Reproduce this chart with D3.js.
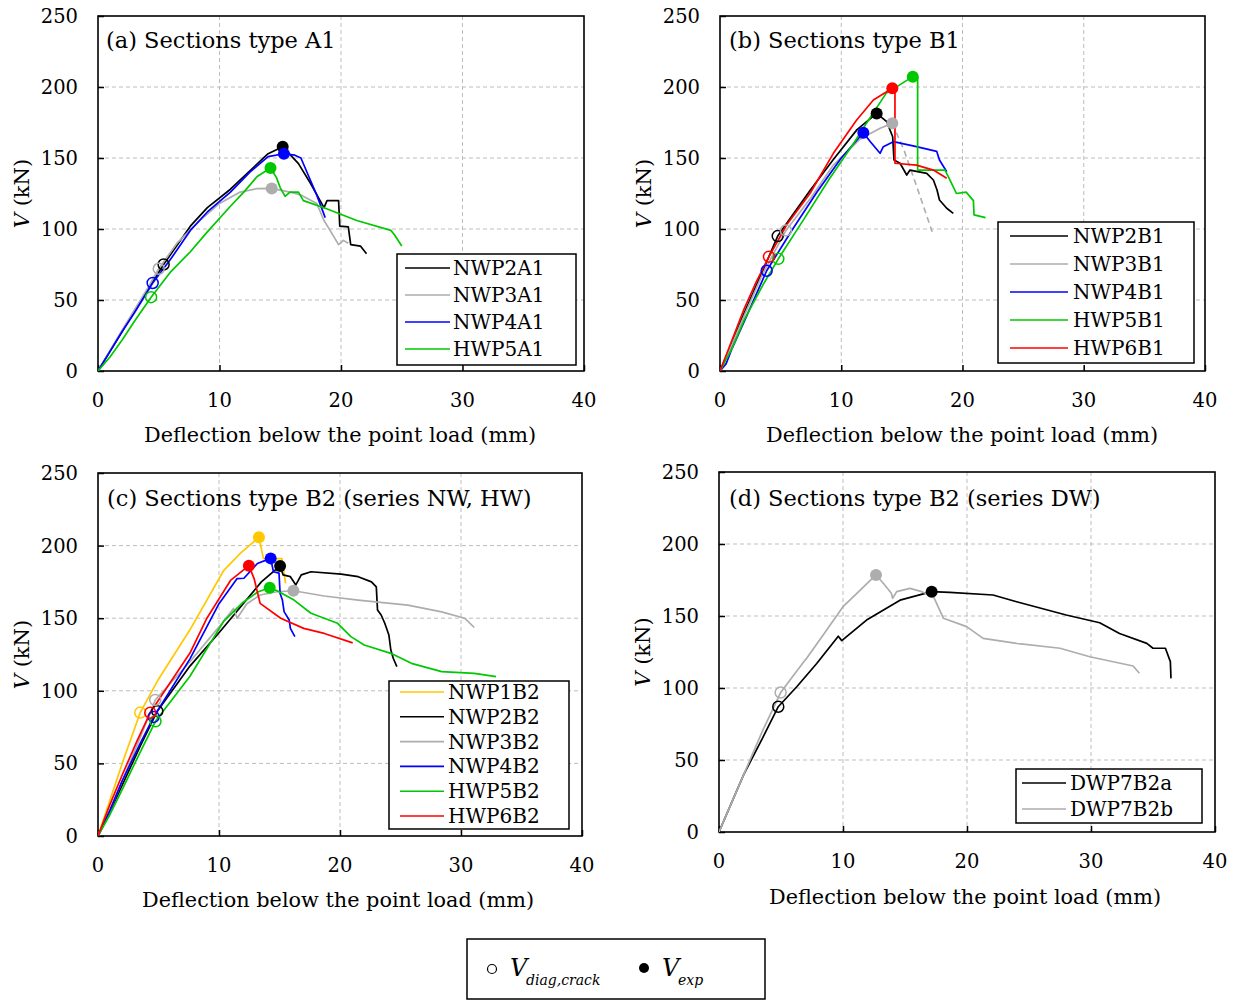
<!DOCTYPE html>
<html><head><meta charset="utf-8">
<script src="https://cdn.jsdelivr.net/npm/d3@7"></script>
<style>body{margin:0;background:#fff}text{font-family:"DejaVu Serif","Liberation Serif",serif;fill:#000}</style>
</head><body>
<svg id="c" width="1234" height="1000"></svg>
<script>
// ---------------- DATA ----------------
const xTicks = [0, 10, 20, 30, 40];
const yTicks = [0, 50, 100, 150, 200, 250];
const panelTitles = ["(a) Sections type A1", "(b) Sections type B1", "(c) Sections type B2 (series NW, HW)", "(d) Sections type B2 (series DW)"];
const xTitle = "Deflection below the point load (mm)";

// Panel (a)
const NWP2A1 = [[0,0],[2,28],[4,56],[5.4,75],[7.6,102],[9,115],[10.9,128],[12.5,141],[14,153],[15.2,158],[16.5,146],[17.5,132],[18.6,115],[18.85,120],[19.8,120],[19.9,102],[20.6,101.5],[20.8,89],[21.6,88],[22.1,82.5]];
const NWP3A1 = [[0,0],[2,29],[4,57],[5,72],[6.5,90],[8.4,106],[10,118],[11.7,126],[13.1,128.5],[14.3,128.6],[15.8,126],[16.7,124],[18,118],[18.6,106],[19.1,99],[19.8,89],[20.2,92],[20.6,90]];
const NWP4A1 = [[0,0],[1,14],[2,28],[3,41],[4.5,62],[6,79],[7.6,99],[9,112],[10.9,126],[12.5,140],[14,151],[15.3,153],[16.2,152],[16.7,150],[17,144],[17.35,137],[18,124],[18.7,108]];
const HWP5A1 = [[0,0],[1,10],[2,22],[3,35],[4.37,52],[6,70],[7.6,84],[9,98],[10.9,116],[12,126],[13.1,137],[14.2,143],[14.7,136],[15,129],[15.4,123],[15.8,126],[16.5,126],[16.9,120],[18.6,115],[21.3,106],[24.1,99],[24.4,96],[25,88]];
const crackA = [[5.4,75],[5.0,72],[4.5,62],[4.37,52]];
const peakA = [[15.2,158],[14.3,128.6],[15.3,153],[14.2,143]];

// Panel (b)
const NWP2B1 = [[0,0],[1,20],[2,41],[3.5,70],[4.76,95],[6,110],[7.5,128],[9.35,149],[11.3,170],[12.92,181.4],[13.75,175.6],[14.24,165],[14.35,148.6],[14.85,146.3],[15.4,138],[15.67,141.5],[17.05,139.2],[17.6,134.5],[17.9,127.5],[18.1,120.4],[18.7,114.6],[19.24,111]];
const NWP3B1 = [[0,0],[1,19],[2,39],[3.5,68],[5.44,99],[7.5,122],[9.35,145],[11.5,163],[13.2,171],[14.21,174.4]];
const NWP3B1_post = [[14.21,174.4],[15.2,155],[16.3,128],[17.5,98]];
const NWP4B1 = [[0,0],[0.5,5],[1,16],[2,35],[3.85,70.6],[6,100],[8,126],[10,150],[11.82,167.8],[12.4,161.5],[13.2,153.3],[13.47,158],[14.3,161.5],[16.2,158],[17.87,154.7],[18.1,148.6],[18.7,140.3]];
const HWP5B1 = [[0,0],[1,16],[2,36],[3.5,60],[4.81,79],[7,108],[9,135],[11,160],[12.5,180],[13.7,195.5],[15.9,207.3],[16.3,207],[16.3,141.5],[18.56,141.5],[18.97,134.5],[19.5,125],[20.3,126],[20.9,120],[20.95,110],[21.9,108]];
const HWP6B1 = [[0,0],[1,22],[2,44],[3,63],[4.04,80.5],[5.5,103],[7.42,125],[9.35,153.3],[11.27,176.8],[12.65,190.8],[14.21,199.1],[14.43,199],[14.43,146.3],[16.2,145],[17.6,141.5],[18.7,135.7]];
const crackB = [[4.76,95],[5.44,99],[3.85,70.6],[4.81,79],[4.04,80.5]];
const peakB = [[12.92,181.4],[14.21,174.4],[11.82,167.8],[15.9,207.3],[14.21,199.1]];

// Panel (c)
const NWP1B2 = [[0,0],[1,25],[2,50],[3.49,85],[5,108],[7.6,142],[10.4,183],[11.8,195],[13.3,205.7],[13.67,191.2],[15.2,191],[15.5,174]];
const NWP2B2 = [[0,0],[1,17],[2,35],[3.5,62],[4.9,86],[7.6,117],[10,140],[12,160],[13.5,175],[15.05,186],[15.3,179.8],[15.9,178.6],[16.35,172.9],[16.8,179.8],[17.6,182],[20.1,180.4],[21.5,178.6],[22.6,175],[23.0,171.6],[23.1,155.6],[23.4,152.2],[23.7,146.5],[24.04,138.4],[24.2,128.1],[24.4,122.4],[24.7,116.6]];
const NWP3B2 = [[0,0],[1,18],[2,38],[3.5,68],[4.73,93.7],[7.6,120],[10,144],[11.2,156.7],[11.5,150],[12.3,160],[13.4,166],[14.8,168.2],[16.15,168.9],[18.7,165.3],[21.5,162.5],[25.6,159],[28.4,154.4],[30.3,150],[31.1,143.6]];
const NWP4B2 = [[0,0],[1,18],[2,38],[3.5,64],[4.6,82],[7.6,122],[10,160],[11.5,177.3],[12.06,177.5],[13.17,187.7],[14.27,191.2],[14.5,182],[14.96,181],[15.05,167],[15.24,162.5],[15.38,154.5],[15.8,148.8],[15.9,143],[16.27,137.3]];
const HWP5B2 = [[0,0],[1,15],[2,32],[3.5,58],[4.75,79],[7.6,110],[10.4,148],[12,161],[13.2,168],[14.19,171],[14.8,168.9],[16.2,162.5],[17.6,153.4],[19.8,146.5],[20.9,137.3],[22.0,131.5],[24.2,125.8],[25.9,118.9],[28.4,113.2],[31.1,112],[32.9,109.8]];
const HWP6B2 = [[0,0],[1,22],[2,42],[3.2,65],[4.32,85],[6,106],[7.6,126],[9,150],[10.95,176],[12.47,186.2],[12.9,177.3],[13.4,160.2],[15.1,150],[17.0,143],[18.7,139.5],[21.05,133]];
const crackC = [[3.49,85],[4.9,86],[4.73,93.7],[4.6,82],[4.75,79],[4.32,84.9]];
const peakC = [[13.3,205.7],[15.05,186],[16.15,168.9],[14.27,191.2],[14.19,171],[12.47,186.2]];

// Panel (d)
const DWP7B2a = [[0,0],[1,20],[2,40],[3.5,65],[4.78,87],[6.27,100.9],[7.88,117],[9.62,136],[9.9,132.9],[11.9,147.2],[14.6,161],[17.15,166.9],[18.6,166.4],[22.1,164.6],[24.0,159.9],[28.0,150.7],[30.7,145.3],[32.3,137.9],[34.5,131],[35.0,127.6],[36.0,127.6],[36.4,118.3],[36.45,106.7]];
const DWP7B2b = [[0,0],[1,20],[2,40],[3.5,70],[4.97,96.8],[6.9,119],[7.07,120.6],[8.5,138],[10.0,156.5],[10.7,162.3],[12.66,178.5],[13.25,172.7],[13.9,165.8],[14.0,162.3],[14.33,166.9],[15.4,169.2],[16.35,166.9],[17.3,163.4],[18.1,148.4],[19.97,142.6],[21.3,134.5],[24.0,131],[27.5,127.6],[29.9,121.7],[33.4,115.3],[33.9,110.2]];
const crackD = [[4.78,87],[4.97,96.8]];
const peakD = [[17.15,166.9],[12.66,178.5]];

// ---------------- STYLE / LAYOUT ----------------
const COL = {black:"#000000", gray:"#adadad", blue:"#0000ff", green:"#00c800", red:"#ff0000", yellow:"#ffc800"};
const panels = [
 {box:[98,584,16,371], title:panelTitles[0], titleXY:[106,48], xt:[340,442], tickY:407,
  series:[{n:"NWP2A1",d:NWP2A1,c:COL.black},{n:"NWP3A1",d:NWP3A1,c:COL.gray},{n:"NWP4A1",d:NWP4A1,c:COL.blue},{n:"HWP5A1",d:HWP5A1,c:COL.green}],
  crack:crackA, peak:peakA, leg:{box:[397,576,254,365], y0:268, dy:27, l0:405, l1:450, tx:453}},
 {box:[720,1205,16,371], title:panelTitles[1], titleXY:[729,48], xt:[962,442], tickY:407,
  series:[{n:"NWP2B1",d:NWP2B1,c:COL.black},{n:"NWP3B1",d:NWP3B1,c:COL.gray},{n:"NWP4B1",d:NWP4B1,c:COL.blue},{n:"HWP5B1",d:HWP5B1,c:COL.green},{n:"HWP6B1",d:HWP6B1,c:COL.red}],
  extra:[{d:NWP3B1_post,c:COL.gray,dash:"6,4"}],
  crack:crackB, peak:peakB, leg:{box:[998,1194,222,363], y0:236, dy:28, l0:1010, l1:1068, tx:1073}},
 {box:[98,582,473,836], title:panelTitles[2], titleXY:[107,506], xt:[338,907], tickY:872,
  series:[{n:"NWP1B2",d:NWP1B2,c:COL.yellow},{n:"NWP2B2",d:NWP2B2,c:COL.black},{n:"NWP3B2",d:NWP3B2,c:COL.gray},{n:"NWP4B2",d:NWP4B2,c:COL.blue},{n:"HWP5B2",d:HWP5B2,c:COL.green},{n:"HWP6B2",d:HWP6B2,c:COL.red}],
  crack:crackC, peak:peakC, leg:{box:[389,569,681,829], y0:692, dy:24.8, l0:400, l1:444, tx:448}},
 {box:[719,1215,472,832], title:panelTitles[3], titleXY:[729,506], xt:[965,904], tickY:868,
  series:[{n:"DWP7B2a",d:DWP7B2a,c:COL.black},{n:"DWP7B2b",d:DWP7B2b,c:COL.gray}],
  crack:crackD, peak:peakD, leg:{box:[1016,1202,769,823], y0:783, dy:26, l0:1022, l1:1066, tx:1070}}
];

const svg = d3.select("#c");
const FS = 19;

panels.forEach(p => {
  const [L,R,T,B] = p.box;
  const x = d3.scaleLinear().domain([0,40]).range([L,R]);
  const y = d3.scaleLinear().domain([0,250]).range([B,T]);
  const g = svg.append("g");
  g.selectAll(".gx").data(xTicks.slice(1,-1)).join("line")
    .attr("x1",d=>x(d)).attr("x2",d=>x(d)).attr("y1",T).attr("y2",B)
    .attr("stroke","#bdbdbd").attr("stroke-width",1).attr("stroke-dasharray","4,3");
  g.selectAll(".gy").data(yTicks.slice(1,-1)).join("line")
    .attr("x1",L).attr("x2",R).attr("y1",d=>y(d)).attr("y2",d=>y(d))
    .attr("stroke","#bdbdbd").attr("stroke-width",1).attr("stroke-dasharray","4,3");
  const ax = g.append("g").attr("transform",`translate(0,${B})`)
    .call(d3.axisBottom(x).tickValues(xTicks).tickSizeInner(-6).tickSizeOuter(0).tickFormat(()=>""));
  const ay = g.append("g").attr("transform",`translate(${L},0)`)
    .call(d3.axisLeft(y).tickValues(yTicks).tickSizeInner(-6).tickSizeOuter(0).tickFormat(()=>""));
  [ax,ay].forEach(a=>{a.select(".domain").remove(); a.selectAll("line").attr("stroke","#000").attr("stroke-width",1.5);});
  g.selectAll(".xl").data(xTicks).join("text").attr("x",d=>x(d)).attr("y",p.tickY)
    .attr("text-anchor","middle").attr("font-size",FS+0.5).text(d=>d);
  g.selectAll(".yl").data(yTicks).join("text").attr("x",L-20).attr("y",d=>y(d)+7)
    .attr("text-anchor","end").attr("font-size",FS+0.5).text(d=>d);
  g.append("rect").attr("x",L).attr("y",T).attr("width",R-L).attr("height",B-T)
    .attr("fill","none").attr("stroke","#000").attr("stroke-width",1.6);
  const yl = g.append("text").attr("transform",`translate(${L-69},${(T+B)/2}) rotate(-90)`)
    .attr("text-anchor","middle").attr("font-size",FS+2);
  yl.append("tspan").attr("font-style","italic").text("V");
  yl.append("tspan").text(" (kN)");
  g.append("text").attr("x",p.xt[0]).attr("y",p.xt[1]).attr("text-anchor","middle")
    .attr("font-size",FS+2).attr("textLength",392).attr("lengthAdjust","spacingAndGlyphs").text(xTitle);
  g.append("text").attr("x",p.titleXY[0]).attr("y",p.titleXY[1]).attr("font-size",22.5).text(p.title);
  const line = d3.line().x(d=>x(d[0])).y(d=>y(d[1]));
  const clip = "clip"+L+T;
  svg.append("clipPath").attr("id",clip).append("rect").attr("x",L).attr("y",T).attr("width",R-L).attr("height",B-T);
  const lg = g.append("g").attr("clip-path",`url(#${clip})`);
  (p.extra||[]).forEach(e=>lg.append("path").attr("d",line(e.d)).attr("fill","none").attr("stroke",e.c).attr("stroke-width",1.6).attr("stroke-dasharray",e.dash));
  p.series.forEach(s=>lg.append("path").attr("d",line(s.d)).attr("fill","none").attr("stroke",s.c).attr("stroke-width",1.7).attr("stroke-linejoin","round"));
  p.series.forEach((s,i)=>{
    const c = p.crack[i];
    lg.append("circle").attr("cx",x(c[0])).attr("cy",y(c[1])).attr("r",5.5).attr("fill","none").attr("stroke",s.c).attr("stroke-width",1.5);
  });
  p.series.forEach((s,i)=>{
    const k = p.peak[i];
    lg.append("circle").attr("cx",x(k[0])).attr("cy",y(k[1])).attr("r",6).attr("fill",s.c);
  });
  const lb = p.leg.box;
  g.append("rect").attr("x",lb[0]).attr("y",lb[2]).attr("width",lb[1]-lb[0]).attr("height",lb[3]-lb[2])
    .attr("fill","#fff").attr("stroke","#000").attr("stroke-width",1.5);
  p.series.forEach((s,i)=>{
    const yy = p.leg.y0 + i*p.leg.dy;
    g.append("line").attr("x1",p.leg.l0).attr("x2",p.leg.l1).attr("y1",yy).attr("y2",yy).attr("stroke",s.c).attr("stroke-width",1.6);
    g.append("text").attr("x",p.leg.tx).attr("y",yy+7).attr("font-size",FS+1).text(s.n);
  });
});

// bottom legend
const bl = svg.append("g");
bl.append("rect").attr("x",467).attr("y",939).attr("width",298).attr("height",60).attr("fill","#fff").attr("stroke","#000").attr("stroke-width",1.5);
bl.append("circle").attr("cx",492).attr("cy",969).attr("r",4.5).attr("fill","none").attr("stroke","#000").attr("stroke-width",1.2);
bl.append("text").attr("x",510).attr("y",976).attr("font-size",24).attr("font-style","italic").text("V");
bl.append("text").attr("x",526).attr("y",985).attr("font-size",14).attr("font-style","italic").text("diag,crack");
bl.append("circle").attr("cx",644).attr("cy",968).attr("r",5).attr("fill","#000");
bl.append("text").attr("x",662).attr("y",976).attr("font-size",24).attr("font-style","italic").text("V");
bl.append("text").attr("x",678).attr("y",985).attr("font-size",14).attr("font-style","italic").text("exp");
</script>
</body></html>
